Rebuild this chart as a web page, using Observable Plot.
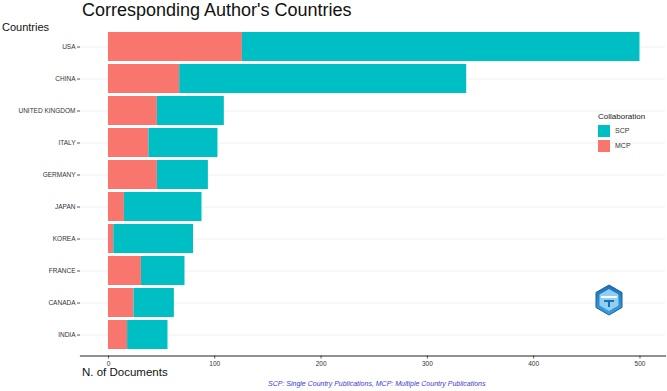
<!DOCTYPE html>
<html><head><meta charset="utf-8">
<script src="https://cdn.jsdelivr.net/npm/d3@7"></script>
<script src="https://cdn.jsdelivr.net/npm/@observablehq/plot@0.6"></script>
<style>
body{margin:0;background:#fff;font-family:"Liberation Sans",Arial,sans-serif;}
#wrap{position:relative;width:667px;height:391px;overflow:hidden;}
#chart{position:absolute;left:0;top:0;}
.t{position:absolute;white-space:nowrap;color:#111;}
</style></head>
<body><div id="wrap">
<div id="chart"></div>
<div class="t" style="left:82px;top:0px;font-size:18px;">Corresponding Author's Countries</div>
<div class="t" style="left:2px;top:21px;font-size:11px;">Countries</div>
<div class="t" style="left:82px;top:366px;font-size:11.5px;">N. of Documents</div>
<div class="t" style="left:268px;top:380px;font-size:7px;font-style:italic;color:#3a3ad0;">SCP: Single Country Publications, MCP: Multiple Country Publications</div>
<div class="t" style="left:598px;top:112px;font-size:8px;color:#222;">Collaboration</div>
<div style="position:absolute;left:598px;top:125px;width:12px;height:12px;background:#00BFC4"></div>
<div style="position:absolute;left:598px;top:140px;width:12px;height:12px;background:#F8766D"></div>
<div class="t" style="left:615px;top:127px;font-size:7px;color:#333;">SCP</div>
<div class="t" style="left:615px;top:142px;font-size:7px;color:#333;">MCP</div>
<svg style="position:absolute;left:595px;top:284px" width="28" height="32" viewBox="0 0 28 32">
<defs><linearGradient id="g" x1="0" y1="0" x2="0" y2="1"><stop offset="0" stop-color="#1f6fb8"/><stop offset="1" stop-color="#3aa0e0"/></linearGradient></defs>
<polygon points="14,1 27,8.5 27,23.5 14,31 1,23.5 1,8.5" fill="url(#g)" stroke="#1a5fa0" stroke-width="1"/>
<polygon points="14,5 23.5,10.5 23.5,21.5 14,27 4.5,21.5 4.5,10.5" fill="#8fd0f2"/>
<rect x="6" y="12" width="16" height="2" fill="#fff"/>
<path d="M9 16 h10 v2 h-4 v5 h-2 v-5 h-4z" fill="#1f6fb8"/>
</svg>
</div>
<script>
const countries = ["USA","CHINA","UNITED KINGDOM","ITALY","GERMANY","JAPAN","KOREA","FRANCE","CANADA","INDIA"];
const mcp = [126, 67, 46, 38, 46, 15, 5, 31, 24, 18];
const scp = [374, 270, 63, 65, 48, 73, 75, 41, 38, 38];
const xTicks = [0, 100, 200, 300, 400, 500];

const rows = [];
countries.forEach((c, i) => rows.push({country: c, type: "MCP", n: mcp[i]}));
countries.forEach((c, i) => rows.push({country: c, type: "SCP", n: scp[i]}));

const chart = Plot.plot({
  width: 667, height: 391,
  marginLeft: 80, marginRight: 2, marginTop: 24.5, marginBottom: 35.5,
  style: {fontFamily: "Liberation Sans, Arial, sans-serif", background: "#fff", color: "#333"},
  x: {domain: [-26.3, 524], label: null},
  y: {domain: countries, paddingInner: 0.1, paddingOuter: 0.15, label: null},
  color: {domain: ["SCP","MCP"], range: ["#00BFC4","#F8766D"]},
  marks: [
    Plot.ruleY(countries, {y: d => d, stroke: "#ececec", strokeWidth: 0.8}),
    Plot.barX(rows, Plot.stackX({y: "country", x: "n", fill: "type", z: "type", order: ["MCP","SCP"]})),
    Plot.axisY({tickSize: 3, tickPadding: 2, fontSize: 6.5, label: null, stroke: "#555"}),
    Plot.axisX({ticks: xTicks, tickSize: 3, tickPadding: 2, fontSize: 6.5, label: null, stroke: "#555"}),
    Plot.frame({anchor: "bottom", stroke: "#222", strokeWidth: 1.2})
  ]
});
document.getElementById("chart").appendChild(chart);
</script>
</body></html>
